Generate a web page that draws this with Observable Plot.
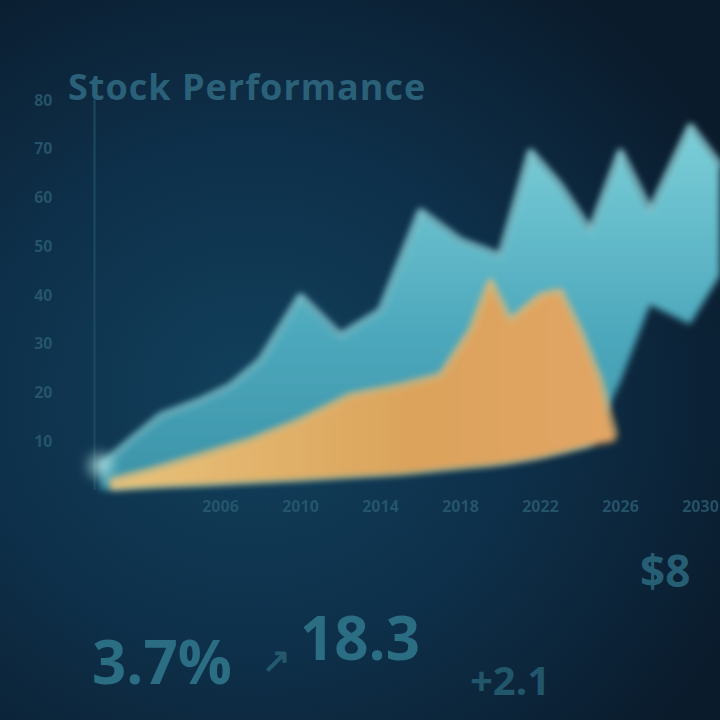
<!DOCTYPE html>
<html><head><meta charset="utf-8">
<script src="https://cdn.jsdelivr.net/npm/d3@7"></script>
<script src="https://cdn.jsdelivr.net/npm/@observablehq/plot@0.6"></script>
<style>
html,body{margin:0;padding:0;background:#0b2033;}
#wrap{position:relative;width:720px;height:720px;overflow:hidden;
  background:radial-gradient(ellipse 75% 70% at 35% 55%, #11405c 0%, #0e304a 50%, #0a1b2c 100%);
  font-family:"Open Sans",sans-serif;}
#title{position:absolute;left:68px;top:62px;font-size:36px;font-weight:700;color:#2a6179;letter-spacing:1px;white-space:nowrap;}
#chart{position:absolute;left:0;top:0;}
.stat{position:absolute;font-weight:700;color:#2b6d83;white-space:nowrap;}
</style></head><body>
<div id="wrap">
  <div id="chart"></div>
  <div id="title">Stock Performance</div>
  <div class="stat" style="left:92px;top:620px;font-size:60px;">3.7%</div>
  <div class="stat" style="left:262px;top:636px;font-size:34px;color:#24586d;">↗</div>
  <div class="stat" style="left:300px;top:596px;font-size:60px;">18.3</div>
  <div class="stat" style="left:470px;top:652px;font-size:40px;color:#22566b;">+2.1</div>
  <div class="stat" style="left:640px;top:540px;font-size:44px;color:#265f74;">$8</div>
</div>
<script>
// ---- data ----
const tealYears = [2000, 2001.5, 2003, 2005, 2006.5, 2008, 2010, 2012, 2014, 2016, 2018, 2020, 2021.5, 2023, 2024.5, 2026, 2027.5, 2029.5, 2031];
const tealHigh  = [5.1, 10.3, 15.4, 18.5, 21.5, 26.7, 40, 31.8, 36.9, 57.4, 51.3, 48.2, 69.7, 62.6, 53.3, 69.7, 57.4, 74.9, 66.7];
const tealLow   = [0, 0.3, 0.7, 1, 1.3, 1.6, 2, 2.5, 3, 3.6, 4.4, 5.2, 6.2, 7.5, 9, 22, 38, 34, 44];
const orangeYears = [2000.5, 2002.5, 2005, 2007.5, 2010, 2012.5, 2015, 2017, 2018.5, 2019.5, 2020.5, 2022, 2023, 2024, 2025, 2025.75];
const orangeHigh  = [2.0, 4.1, 7.2, 10.3, 14.4, 19.5, 21.5, 23.6, 32.8, 43.1, 34.9, 40, 41, 32.8, 22.6, 11.3];
const orangeLow   = [0, 0.5, 1, 1.5, 2, 2.6, 3.2, 4, 4.6, 5, 5.5, 6.5, 7.5, 8.5, 9.5, 10];
const xTicks = [2006, 2010, 2014, 2018, 2022, 2026, 2030];
const yTicks = [10, 20, 30, 40, 50, 60, 70, 80];

const tealData = tealYears.map((x, i) => ({x, lo: tealLow[i], hi: tealHigh[i]}));
const orangeData = orangeYears.map((x, i) => ({x, lo: orangeLow[i], hi: orangeHigh[i]}));

const chart = Plot.plot({
  width: 720, height: 530,
  marginLeft: 100, marginRight: 0, marginTop: 100, marginBottom: 40,
  style: {background: "transparent", color: "#2b5d73", fontSize: "16px", fontFamily: "Open Sans, sans-serif", fontWeight: "700"},
  x: {domain: [2000, 2031], ticks: xTicks, tickFormat: d => String(d), tickSize: 0, tickPadding: 10, label: null},
  y: {domain: [0, 80], ticks: yTicks, tickSize: 0, tickPadding: 48, label: null},
  marks: [
    Plot.ruleX([2000], {x: d => d, y1: 0, y2: 80, stroke: "#1d4a60", strokeWidth: 2, dx: -6}),
    Plot.areaY(tealData, {x: "x", y1: "lo", y2: "hi", fill: "url(#tealGrad)"}),
    Plot.lineY(tealData, {x: "x", y: "hi", stroke: "#9fdde2", strokeWidth: 4, strokeOpacity: 0.85}),
    Plot.areaY(orangeData, {x: "x", y1: "lo", y2: "hi", fill: "url(#orangeGrad)"}),
    Plot.lineY(orangeData, {x: "x", y: "hi", stroke: "#f0c47c", strokeWidth: 3, strokeOpacity: 0.9}),
    Plot.dot([tealData[0]], {x: "x", y: "hi", r: 13, fill: "#bdf0ec", fillOpacity: 0.55})
  ]
});

const svg = d3.select(chart);
const defs = svg.insert("defs", ":first-child");
const tg = defs.append("linearGradient").attr("id", "tealGrad").attr("x1", 0).attr("x2", 0).attr("y1", 0).attr("y2", 1);
tg.append("stop").attr("offset", "0%").attr("stop-color", "#7ccfd8");
tg.append("stop").attr("offset", "55%").attr("stop-color", "#4ea9bd");
tg.append("stop").attr("offset", "100%").attr("stop-color", "#3b93a8");
const og = defs.append("linearGradient").attr("id", "orangeGrad").attr("x1", 0).attr("x2", 1).attr("y1", 0).attr("y2", 0);
og.append("stop").attr("offset", "0%").attr("stop-color", "#e8c27a");
og.append("stop").attr("offset", "60%").attr("stop-color", "#dba35c");
og.append("stop").attr("offset", "100%").attr("stop-color", "#e2a564");
const f = defs.append("filter").attr("id", "soft").attr("x", "-10%").attr("y", "-10%").attr("width", "120%").attr("height", "120%");
f.append("feGaussianBlur").attr("stdDeviation", 3.5);
const f2 = defs.append("filter").attr("id", "glow").attr("x", "-50%").attr("y", "-50%").attr("width", "200%").attr("height", "200%");
f2.append("feGaussianBlur").attr("stdDeviation", 6);
svg.selectAll('g[aria-label="area"], g[aria-label="line"]').attr("filter", "url(#soft)");
svg.selectAll('g[aria-label="dot"]').attr("filter", "url(#glow)");
svg.selectAll('g[aria-label="y-axis tick label"] text, g[aria-label="x-axis tick label"] text').attr("opacity", 0.8);

document.getElementById("chart").appendChild(chart);
</script>
</body></html>
